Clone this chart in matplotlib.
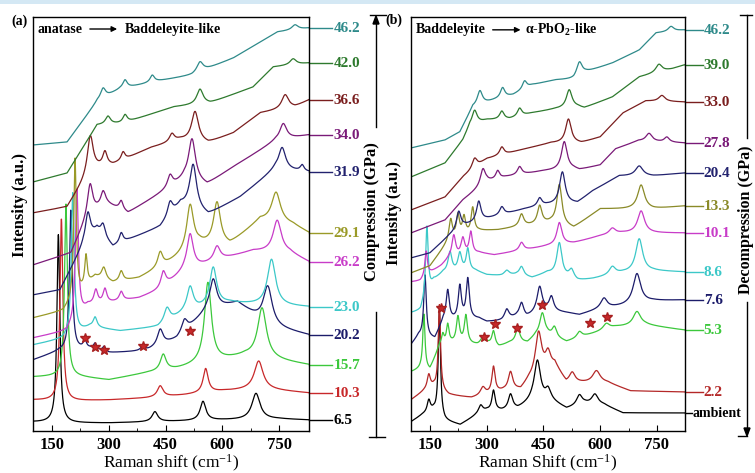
import numpy as np
import matplotlib.pyplot as plt
from matplotlib.lines import Line2D

plt.rcParams['font.family'] = ['Liberation Serif', 'DejaVu Serif']
plt.rcParams['font.weight'] = 'bold'
plt.rcParams['mathtext.default'] = 'regular'

# ---------------- panel (a): compression ----------------
labels_a = ['6.5', '10.3', '15.7', '20.2', '23.0', '26.2', '29.1', '31.9', '34.0', '36.6', '42.0', '46.2']
colors_a = ['#000000', '#c8282a', '#3cc83c', '#1c1c6a', '#3cc8c8', '#c83cc8',
            '#9a9a28', '#22226e', '#7a1a78', '#7a1e1e', '#2e7a2e', '#2e8a8a']

# baseline anchors (cm-1, intensity) for each spectrum
base_a = [
    [(100, 9), (200, 8), (300, 8), (400, 9), (500, 10), (600, 11), (750, 12), (829, 11)],
    [(100, 31), (200, 30), (300, 31), (400, 33), (500, 36), (600, 40), (700, 42), (829, 38)],
    [(100, 54), (200, 55), (300, 51), (400, 58), (480, 62), (560, 68), (660, 75), (740, 71), (829, 66)],
    [(100, 71), (170, 80), (250, 82), (300, 78), (400, 80), (480, 92), (560, 120), (640, 128), (720, 105), (829, 96)],
    [(100, 86), (180, 92), (250, 104), (330, 100), (430, 104), (500, 118), (560, 124), (620, 128), (700, 126), (829, 124)],
    [(100, 93), (190, 100), (245, 125), (300, 128), (380, 133), (436, 141), (500, 160), (600, 172), (681, 180), (779, 178), (829, 169)],
    [(100, 113), (180, 120), (264, 154), (311, 148), (380, 153), (444, 165), (540, 186), (620, 186), (700, 211), (787, 206), (829, 198)],
    [(100, 136), (171, 141), (232, 185), (269, 201), (311, 184), (351, 191), (436, 204), (490, 226), (563, 216), (647, 234), (740, 262), (829, 259)],
    [(100, 166), (200, 178), (245, 215), (290, 228), (351, 218), (430, 236), (500, 252), (560, 246), (629, 264), (740, 290), (829, 296)],
    [(100, 218), (190, 224), (255, 262), (311, 266), (409, 283), (489, 291), (563, 288), (629, 298), (700, 318), (792, 324), (829, 331)],
    [(100, 249), (190, 258), (269, 306), (340, 308), (470, 324), (568, 328), (681, 344), (734, 364), (829, 368)],
    [(100, 286), (190, 289), (270, 330), (330, 342), (430, 350), (520, 356), (629, 373), (745, 399), (829, 403)],
]
# peaks (centre cm-1, height, half width)
peaks_a = [
    [(167, 188, 4.5), (422, 10, 9), (549, 19, 9), (689, 26, 13)],
    [(175, 182, 4.5), (436, 11, 9), (556, 24, 8), (696, 28, 14)],
    [(187, 172, 4.5), (444, 16, 9), (562, 80, 11), (705, 50, 14)],
    [(200, 140, 4.5), (237, 8, 5), (264, 6, 5), (288, 5, 5), (391, 5, 7), (436, 16, 9), (500, 12, 9), (576, 30, 11), (720, 40, 14)],
    [(205, 142, 4.5), (264, 10, 6), (454, 14, 9), (515, 24, 10), (576, 38, 11), (730, 46, 13)],
    [(216, 130, 4.5), (266, 14, 6), (290, 14, 6), (333, 9, 6), (444, 16, 8), (515, 35, 10), (586, 14, 10), (745, 32, 13)],
    [(211, 140, 4), (240, 30, 4), (287, 12, 7), (333, 10, 6), (436, 15, 8), (515, 45, 11), (586, 42, 11), (742, 30, 14)],
    [(245, 28, 8), (285, 12, 7), (333, 10, 6), (462, 14, 8), (523, 45, 11), (758, 22, 11), (811, 6, 6)],
    [(251, 30, 8), (285, 12, 7), (333, 9, 6), (462, 12, 8), (520, 42, 11), (761, 16, 11)],
    [(251, 35, 9), (290, 14, 7), (338, 8, 6), (467, 8, 8), (528, 30, 11), (766, 14, 11)],
    [(298, 8, 8), (343, 8, 7), (541, 15, 10), (787, 6, 10)],
    [(285, 10, 8), (343, 8, 7), (415, 7, 7), (541, 10, 10), (792, 5, 10)],
]
stars_a_x = [237, 264, 288, 391, 515]
stars_a_y = [93, 84, 81, 85, 100]

# ---------------- panel (b): decompression ----------------
labels_b = ['ambient', '2.2', '5.3', '7.6', '8.6', '10.1', '13.3', '20.4', '27.8', '33.0', '39.0', '46.2']
colors_b = ['#000000', '#b42828', '#3cc83c', '#1c1c6a', '#3cc8c8', '#c83cc8',
            '#8a8a28', '#22226e', '#7a1a78', '#7a1e1e', '#2e7a2e', '#2e8a8a']
base_b = [
    [(100, 9), (130, 16), (160, 20), (190, 10), (230, 6), (270, 15), (300, 20), (340, 20), (382, 22), (420, 30), (470, 30), (511, 22), (560, 27), (610, 26), (660, 18), (821, 18)],
    [(100, 31), (135, 40), (160, 44), (200, 36), (260, 33), (300, 36), (345, 40), (390, 41), (410, 50), (480, 66), (510, 48), (560, 48), (620, 48), (680, 40), (821, 39)],
    [(100, 59), (125, 62), (150, 61), (165, 75), (175, 85), (200, 88), (276, 86), (300, 88), (332, 84), (360, 88), (408, 88), (430, 95), (460, 96), (511, 89), (560, 95), (640, 104), (720, 106), (821, 101)],
    [(100, 86), (120, 95), (163, 92), (185, 110), (280, 112), (300, 109), (340, 110), (380, 114), (405, 113), (430, 118), (460, 120), (510, 118), (545, 116), (600, 122), (660, 125), (740, 130), (821, 131)],
    [(100, 118), (125, 120), (160, 150), (185, 158), (270, 160), (300, 156), (340, 155), (380, 156), (420, 153), (460, 158), (540, 150), (580, 152), (660, 158), (740, 160), (821, 159)],
    [(100, 149), (125, 150), (150, 158), (180, 165), (200, 172), (280, 178), (320, 176), (400, 181), (460, 185), (530, 188), (600, 195), (660, 198), (740, 198), (821, 198)],
    [(100, 158), (150, 165), (180, 180), (200, 190), (280, 200), (330, 201), (400, 205), (470, 208), (530, 203), (600, 222), (660, 222), (740, 222), (821, 225)],
    [(100, 173), (150, 178), (200, 195), (240, 205), (300, 212), (400, 222), (460, 226), (540, 228), (580, 240), (650, 255), (740, 255), (821, 258)],
    [(100, 198), (190, 211), (237, 231), (300, 249), (350, 254), (450, 260), (530, 262), (545, 261), (600, 266), (640, 282), (700, 290), (821, 288)],
    [(100, 221), (190, 234), (237, 254), (300, 272), (400, 282), (470, 288), (550, 288), (600, 294), (660, 318), (720, 330), (821, 329)],
    [(100, 254), (190, 268), (237, 291), (255, 305), (300, 311), (360, 312), (420, 318), (480, 322), (540, 324), (558, 323), (632, 334), (703, 354), (790, 362), (821, 366)],
    [(100, 283), (190, 291), (229, 299), (263, 324), (320, 331), (370, 336), (420, 346), (480, 351), (530, 352), (563, 359), (632, 368), (703, 381), (747, 398), (821, 401)],
]
peaks_b = [
    [(147, 12, 5), (175, 105, 3.5), (284, 8, 7), (318, 20, 5), (363, 15, 7), (434, 40, 10), (462, 10, 8), (545, 10, 9), (586, 10, 10)],
    [(147, 14, 5), (175, 85, 3.5), (290, 8, 8), (318, 26, 5), (363, 18, 7), (437, 42, 10), (462, 15, 8), (526, 10, 9), (590, 12, 12)],
    [(134, 55, 3.5), (184, 10, 4), (197, 18, 4), (224, 26, 5), (245, 28, 5), (289, 6, 6), (318, 14, 5), (382, 14, 7), (447, 22, 8), (479, 10, 7), (545, 6, 8), (616, 6, 10), (697, 14, 12)],
    [(137, 62, 4), (197, 30, 5), (229, 33, 5), (250, 40, 5), (353, 10, 7), (392, 14, 7), (440, 25, 8), (471, 14, 7), (610, 10, 10), (697, 30, 12)],
    [(142, 70, 4), (203, 20, 6), (229, 18, 6), (250, 22, 5), (353, 5, 8), (392, 9, 7), (492, 33, 8), (524, 9, 8), (632, 8, 10), (703, 33, 11)],
    [(140, 25, 4), (213, 22, 6), (237, 17, 6), (258, 22, 5), (392, 8, 7), (492, 22, 8), (632, 6, 10), (708, 22, 11)],
    [(205, 20, 5), (224, 22, 5), (240, 18, 5), (263, 25, 5), (392, 12, 7), (440, 18, 7), (492, 40, 8), (708, 24, 11)],
    [(226, 18, 7), (279, 20, 7), (340, 8, 7), (440, 8, 7), (500, 32, 9), (703, 10, 12)],
    [(290, 16, 8), (329, 8, 6), (387, 8, 7), (505, 28, 9), (729, 8, 10), (776, 5, 8)],
    [(268, 10, 8), (340, 8, 7), (516, 24, 9), (763, 6, 10)],
    [(268, 14, 8), (340, 8, 7), (387, 8, 7), (518, 18, 9), (755, 8, 10)],
    [(282, 14, 8), (342, 10, 7), (400, 8, 7), (545, 14, 9), (787, 5, 9)],
]
stars_b_x = [179, 292, 321, 379, 447, 574, 618]
stars_b_y = [123, 94, 107, 103, 126, 108, 114]


def spectrum(x, base, peaks):
    bx = [p[0] for p in base]
    by = [p[1] for p in base]
    y = np.interp(x, bx, by)
    for c, h, w in peaks:
        y = y + h * w ** 2 / ((x - c) ** 2 + w ** 2)
    return y


fig = plt.figure(figsize=(7.55, 4.73), dpi=100)
ax_a = fig.add_axes([33 / 755, 42 / 473, 276 / 755, 414 / 473])
ax_b = fig.add_axes([411 / 755, 42 / 473, 274 / 755, 414 / 473])


def draw_panel(ax, labels, colors, bases, peaks, sx, sy, xmax, lab_len):
    x = np.linspace(100, xmax, 1600)
    for lab, col, b, p in zip(labels, colors, bases, peaks):
        y = spectrum(x, b, p)
        ax.plot(x, y, color=col, lw=0.9)
        yend = b[-1][1]
        ln = lab_len if lab != 'ambient' else 0.025
        fs = 11 if lab != 'ambient' else 10
        ax.plot([1.0, 1.0 + ln], [yend, yend], color=col, lw=1.0,
                transform=ax.get_yaxis_transform(), clip_on=False)
        ax.text(1.0 + ln + 0.003, yend, lab, color=col, fontsize=fs,
                va='center', ha='left', transform=ax.get_yaxis_transform())
    ax.plot(sx, sy, ls='none', marker='*', ms=7.5, color='#c8282a', mec='#a82020')
    ax.set_xlim(100, xmax)
    ax.set_ylim(0, 414)
    ax.set_yticks([])
    ax.set_xticks([150, 300, 450, 600, 750])
    ax.set_xticks([225, 375, 525, 675], minor=True)
    ax.tick_params(axis='x', which='both', direction='in', labelsize=12, pad=4)
    ax.tick_params(axis='x', which='major', length=4)
    ax.tick_params(axis='x', which='minor', length=2.5)
    for s in ax.spines.values():
        s.set_linewidth(1.0)


draw_panel(ax_a, labels_a, colors_a, base_a, peaks_a, stars_a_x, stars_a_y, 829, 0.085)
draw_panel(ax_b, labels_b, colors_b, base_b, peaks_b, stars_b_x, stars_b_y, 824, 0.065)

ax_a.set_xlabel('Raman shift (cm$^{-1}$)', fontsize=12.5, labelpad=0)
ax_b.set_xlabel('Raman Shift (cm$^{-1}$)', fontsize=12.5, labelpad=0)


def fx(px):
    return px / 755


def fy(py):
    return 1 - py / 473


fig.text(fx(20), fy(205), 'Intensity (a.u.)', rotation=90, fontsize=12, ha='center', va='center')
fig.text(fx(394), fy(213), 'Intensity (a.u.)', rotation=90, fontsize=12, ha='center', va='center')
fig.text(fx(20), fy(21), '(a)', fontsize=10, ha='center', va='center')
fig.text(fx(394), fy(20), '(b)', fontsize=10, ha='center', va='center')

# phase transition captions with arrows
ax_a.text(0.018, 0.971, 'anatase', transform=ax_a.transAxes, fontsize=10, va='center')
ax_a.annotate('', xy=(0.315, 0.971), xytext=(0.196, 0.971), xycoords='axes fraction',
              arrowprops=dict(arrowstyle='-|>', color='black', lw=1, mutation_scale=8))
ax_a.text(0.333, 0.971, 'Baddeleyite-like', transform=ax_a.transAxes, fontsize=10, va='center')
ax_b.text(0.018, 0.969, 'Baddeleyite', transform=ax_b.transAxes, fontsize=10, va='center')
ax_b.annotate('', xy=(0.41, 0.969), xytext=(0.288, 0.969), xycoords='axes fraction',
              arrowprops=dict(arrowstyle='-|>', color='black', lw=1, mutation_scale=8))
ax_b.text(0.416, 0.969, r'$\alpha$-PbO$_2$-like', transform=ax_b.transAxes, fontsize=10, va='center')

# pressure brackets on the right
for seg in [((376, 376), (19, 127)), ((376, 376), (312, 437)), ((369, 385), (437, 437)), ((370, 386), (15, 15)),
            ((747, 747), (15, 138)), ((747, 747), (302, 433)), ((740, 752), (15, 15)), ((738, 747), (436, 436))]:
    fig.add_artist(Line2D([fx(seg[0][0]), fx(seg[0][1])], [fy(seg[1][0]), fy(seg[1][1])], color='black', lw=1.0))
fig.add_artist(plt.Polygon([[fx(373), fy(24)], [fx(379), fy(24)], [fx(376), fy(16)]], color='black'))
fig.add_artist(plt.Polygon([[fx(744), fy(428)], [fx(750), fy(428)], [fx(747), fy(436)]], color='black'))
fig.text(fx(372), fy(212), 'Compression (GPa)', rotation=90, fontsize=12, ha='center', va='center')
fig.text(fx(746), fy(220), 'Decompression (GPa)', rotation=90, fontsize=11.5, ha='center', va='center')

fig.add_artist(plt.Rectangle((0, fy(4)), 1, 4 / 473, color='#d4e8f4', lw=0))

fig.savefig('out.png', dpi=100)
